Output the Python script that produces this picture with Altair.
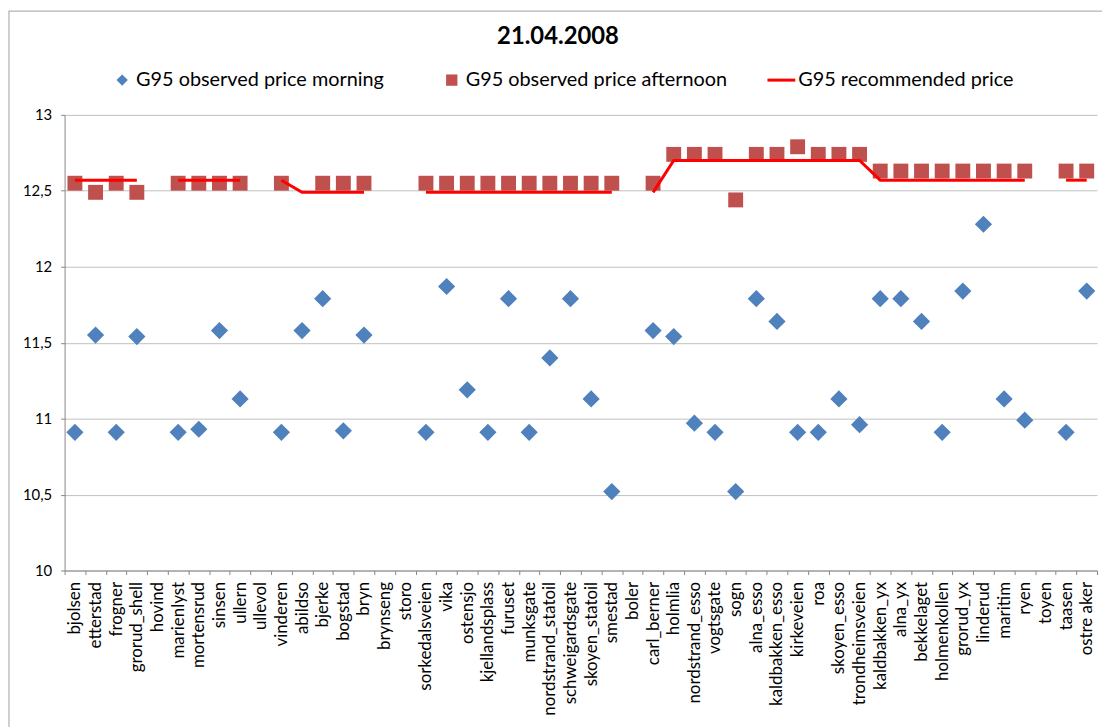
import altair as alt
import pandas as pd

stations = ["bjolsen", "etterstad", "frogner", "grorud_shell", "hovind", "marienlyst",
            "mortensrud", "sinsen", "ullern", "ullevol", "vinderen", "abildso", "bjerke",
            "bogstad", "bryn", "brynseng", "storo", "sorkedalsveien", "vika", "ostensjo",
            "kjellandsplass", "furuset", "munksgate", "nordstrand_statoil", "schweigardsgate",
            "skoyen_statoil", "smestad", "boler", "carl_berner", "holmlia", "nordstrand_esso",
            "vogtsgate", "sogn", "alna_esso", "kaldbakken_esso", "kirkeveien", "roa",
            "skoyen_esso", "trondheimsveien", "kaldbakken_yx", "alna_yx", "bekkelaget",
            "holmenkollen", "grorud_yx", "linderud", "maritim", "ryen", "toyen", "taasen",
            "ostre aker"]

morning = [10.91, 11.55, 10.91, 11.54, None, 10.91, 10.93, 11.58, 11.13, None,
           10.91, 11.58, 11.79, 10.92, 11.55, None, None, 10.91, 11.87, 11.19,
           10.91, 11.79, 10.91, 11.40, 11.79, 11.13, 10.52, None, 11.58, 11.54,
           10.97, 10.91, 10.52, 11.79, 11.64, 10.91, 10.91, 11.13, 10.96, 11.79,
           11.79, 11.64, 10.91, 11.84, 12.28, 11.13, 10.99, None, 10.91, 11.84]

afternoon = [12.55, 12.49, 12.55, 12.49, None, 12.55, 12.55, 12.55, 12.55, None,
             12.55, None, 12.55, 12.55, 12.55, None, None, 12.55, 12.55, 12.55,
             12.55, 12.55, 12.55, 12.55, 12.55, 12.55, 12.55, None, 12.55, 12.74,
             12.74, 12.74, 12.44, 12.74, 12.74, 12.79, 12.74, 12.74, 12.74, 12.63,
             12.63, 12.63, 12.63, 12.63, 12.63, 12.63, 12.63, None, 12.63, 12.63]

recommended = [12.57, 12.57, 12.57, 12.57, None, 12.57, 12.57, 12.57, 12.57, None,
               12.57, 12.49, 12.49, 12.49, 12.49, None, None, 12.49, 12.49, 12.49,
               12.49, 12.49, 12.49, 12.49, 12.49, 12.49, 12.49, None, 12.49, 12.70,
               12.70, 12.70, 12.70, 12.70, 12.70, 12.70, 12.70, 12.70, 12.70, 12.57,
               12.57, 12.57, 12.57, 12.57, 12.57, 12.57, 12.57, None, 12.57, 12.57]

legend_labels = ["G95 observed price morning", "G95 observed price afternoon",
                 "G95 recommended price"]
title_text = "21.04.2008"

# group consecutive recommended values into line segments (gaps where missing)
segments = []
seg_id = 0
prev_missing = True
for v in recommended:
    if v is None:
        segments.append(None)
        prev_missing = True
    else:
        if prev_missing:
            seg_id += 1
        segments.append(seg_id)
        prev_missing = False

df = pd.DataFrame({"station": stations, "morning": morning,
                   "afternoon": afternoon, "recommended": recommended,
                   "segment": segments})
df_m = df.dropna(subset=["morning"])
df_a = df.dropna(subset=["afternoon"])
df_r = df.dropna(subset=["recommended"])

FONT = "Lato"
BLUE = "#4F81BD"
DARKRED = "#C0504D"
RED = "#FF0000"
AXIS = "#868686"
GRID = "#BFBFBF"

xenc = alt.X("station:N", sort=stations,
             scale=alt.Scale(domain=stations, paddingInner=0, paddingOuter=0),
             axis=alt.Axis(title=None, labelAngle=-90, tickBand="extent",
                           labelFontSize=17, labelColor="#000000", labelFont=FONT,
                           domainColor=AXIS, tickColor=AXIS, tickSize=4,
                           labelPadding=7, grid=False))
yscale = alt.Scale(domain=[10, 13], nice=False, zero=False)
yaxis = alt.Axis(title=None, values=[10, 10.5, 11, 11.5, 12, 12.5, 13],
                 labelExpr="replace(toString(datum.value), '.', ',')",
                 gridColor=GRID, domainColor=AXIS, tickColor=AXIS, tickSize=4,
                 labelFontSize=15, labelColor="#000000", labelFont=FONT,
                 labelPadding=9)

morning_layer = alt.Chart(df_m).mark_point(
    shape="diamond", filled=True, size=300, color=BLUE, opacity=1
).encode(x=xenc, y=alt.Y("morning:Q", scale=yscale, axis=yaxis))

afternoon_layer = alt.Chart(df_a).mark_point(
    shape="square", filled=True, size=225, color=DARKRED, opacity=1
).encode(x=xenc, y=alt.Y("afternoon:Q", scale=yscale, axis=yaxis))

line_layer = alt.Chart(df_r).mark_line(
    color=RED, strokeWidth=3
).encode(x=xenc, y=alt.Y("recommended:Q", scale=yscale, axis=yaxis),
         detail="segment:N")

one = pd.DataFrame({"k": [0]})
LY = -35
leg1 = alt.Chart(one).mark_point(shape="diamond", filled=True, size=130,
                                 color=BLUE, opacity=1).encode(
    x=alt.value(58), y=alt.value(LY))
leg1t = alt.Chart(one).mark_text(align="left", baseline="middle", fontSize=20,
                                 font=FONT, color="#000000").encode(
    x=alt.value(72), y=alt.value(LY), text=alt.value(legend_labels[0]))
leg2 = alt.Chart(one).mark_point(shape="square", filled=True, size=130,
                                 color=DARKRED, opacity=1).encode(
    x=alt.value(390), y=alt.value(LY))
leg2t = alt.Chart(one).mark_text(align="left", baseline="middle", fontSize=20,
                                 font=FONT, color="#000000").encode(
    x=alt.value(404), y=alt.value(LY), text=alt.value(legend_labels[1]))
leg3 = alt.Chart(one).mark_rule(color=RED, strokeWidth=3).encode(
    x=alt.value(708), x2=alt.value(736), y=alt.value(LY))
leg3t = alt.Chart(one).mark_text(align="left", baseline="middle", fontSize=20,
                                 font=FONT, color="#000000").encode(
    x=alt.value(739), y=alt.value(LY), text=alt.value(legend_labels[2]))
title_layer = alt.Chart(one).mark_text(align="center", baseline="middle",
                                       fontSize=24, fontWeight="bold",
                                       font=FONT, color="#000000").encode(
    x=alt.value(497), y=alt.value(-78), text=alt.value(title_text))
frame_left = alt.Chart(one).mark_rule(color="#A0A0A0", strokeWidth=1).encode(
    x=alt.value(-56), y=alt.value(-105), y2=alt.value(620))
frame_top = alt.Chart(one).mark_rule(color="#A0A0A0", strokeWidth=1).encode(
    x=alt.value(-56), x2=alt.value(1045), y=alt.value(-104.5))

chart = alt.layer(
    frame_left, frame_top,
    morning_layer, afternoon_layer, line_layer,
    leg1, leg1t, leg2, leg2t, leg3, leg3t, title_layer
).properties(
    width=1040, height=459,
    autosize=alt.AutoSizeParams(type="none"),
    padding={"left": 57, "top": 105, "right": 5, "bottom": 160},
    background="white"
).configure_view(stroke=None)

chart.save("out.html", embed_options={"renderer": "svg", "actions": False})
